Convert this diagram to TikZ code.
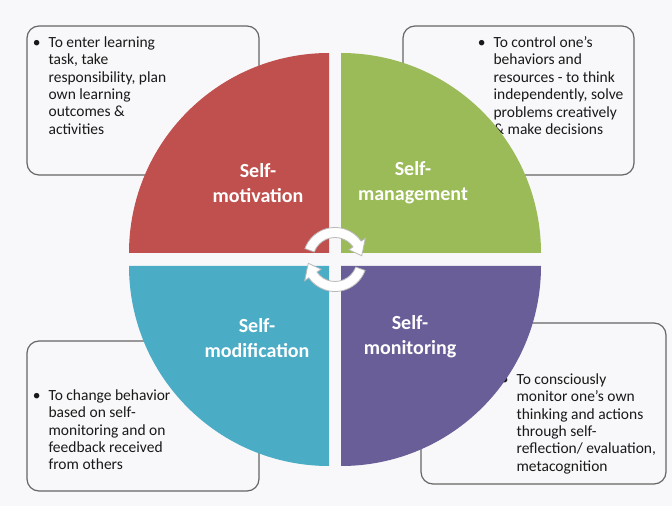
\documentclass[tikz,border=0pt]{standalone}
\usepackage{fontspec}
\setmainfont{Carlito}
\usetikzlibrary{positioning}
\definecolor{bgcol}{RGB}{248,248,250}
\definecolor{motred}{HTML}{C0504D}
\definecolor{mangreen}{HTML}{9BBB59}
\definecolor{modteal}{HTML}{4BACC6}
\definecolor{monpurple}{HTML}{6A5E99}
\begin{document}
\begin{tikzpicture}[
  x=1pt, y=1pt,
  note/.style={draw=gray!80!black, line width=1.2pt, rounded corners=12pt, fill=bgcol},
  notetext/.style={inner sep=0pt, align=left, text=black!90, font=\fontsize{15.5}{17.4}\selectfont},
  lbl/.style={align=center, text=white, font=\fontsize{20}{25}\selectfont\bfseries},
  cyc/.style={fill=white, draw=gray!55, line width=0.8pt}
]
\useasboundingbox[fill=bgcol] (0,0) rectangle (672,506);
% text boxes behind the circle
\node[note, minimum width=232pt, minimum height=149pt] (b1) at (143,405.5) {};
\node[note, minimum width=231pt, minimum height=149pt] (b2) at (518.5,405.5) {};
\node[note, minimum width=232pt, minimum height=150pt] (b3) at (143,90) {};
\node[note, minimum width=245pt, minimum height=161pt] (b4) at (543.5,102.5) {};
\node[notetext, below right=11pt and 22pt of b1.north west] (t1) {\llap{•\hspace{8pt}}To enter learning\\task, take\\responsibility, plan\\own learning\\outcomes \&\\activities};
\node[notetext, below right=11pt and 91pt of b2.north west] (t2) {\llap{•\hspace{8pt}}To control one's\\behaviors and\\resources - to think\\independently, solve\\problems creatively\\\& make decisions};
\node[notetext, below right=49pt and 22pt of b3.north west] (t3) {\llap{•\hspace{8pt}}To change behavior\\based on self-\\monitoring and on\\feedback received\\from others};
\node[notetext, below right=51pt and 96pt of b4.north west] (t4) {\llap{•\hspace{8pt}}To consciously\\monitor one's own\\thinking and actions\\through self-\\reflection/ evaluation,\\metacognition};
% quadrants
\coordinate (q1) at (329,253);
\coordinate (q2) at (341,253);
\coordinate (q3) at (329,240);
\coordinate (q4) at (341,240);
\fill[motred] (q1) -- ++(-200,0) arc[start angle=180, end angle=90, radius=200] -- cycle;
\fill[mangreen] (q2) -- ++(0,200) arc[start angle=90, end angle=0, radius=200] -- cycle;
\fill[modteal] (q3) -- ++(0,-200) arc[start angle=270, end angle=180, radius=200] -- cycle;
\fill[monpurple] (q4) -- ++(200,0) arc[start angle=0, end angle=-90, radius=200] -- cycle;
\node[lbl] (l1) at (258,323) {Self-\\motivation};
\node[lbl] (l2) at (413,323) {Self-\\management};
\node[lbl] (l3) at (257,168) {Self-\\modification};
\node[lbl] (l4) at (410,169) {Self-\\monitoring};
% cycle arrows in the middle
\begin{scope}[shift={(335,246.5)}]
  \draw[cyc] (160:32) arc[start angle=160, end angle=35, radius=32] -- (35:37) -- (8:27)
    -- (35:17) -- (35:22) arc[start angle=35, end angle=160, radius=22] -- cycle;
  \draw[cyc] (-20:32) arc[start angle=-20, end angle=-145, radius=32] -- (-145:37) -- (-172:27)
    -- (-145:17) -- (-145:22) arc[start angle=-145, end angle=-20, radius=22] -- cycle;
\end{scope}
\end{tikzpicture}
\end{document}
